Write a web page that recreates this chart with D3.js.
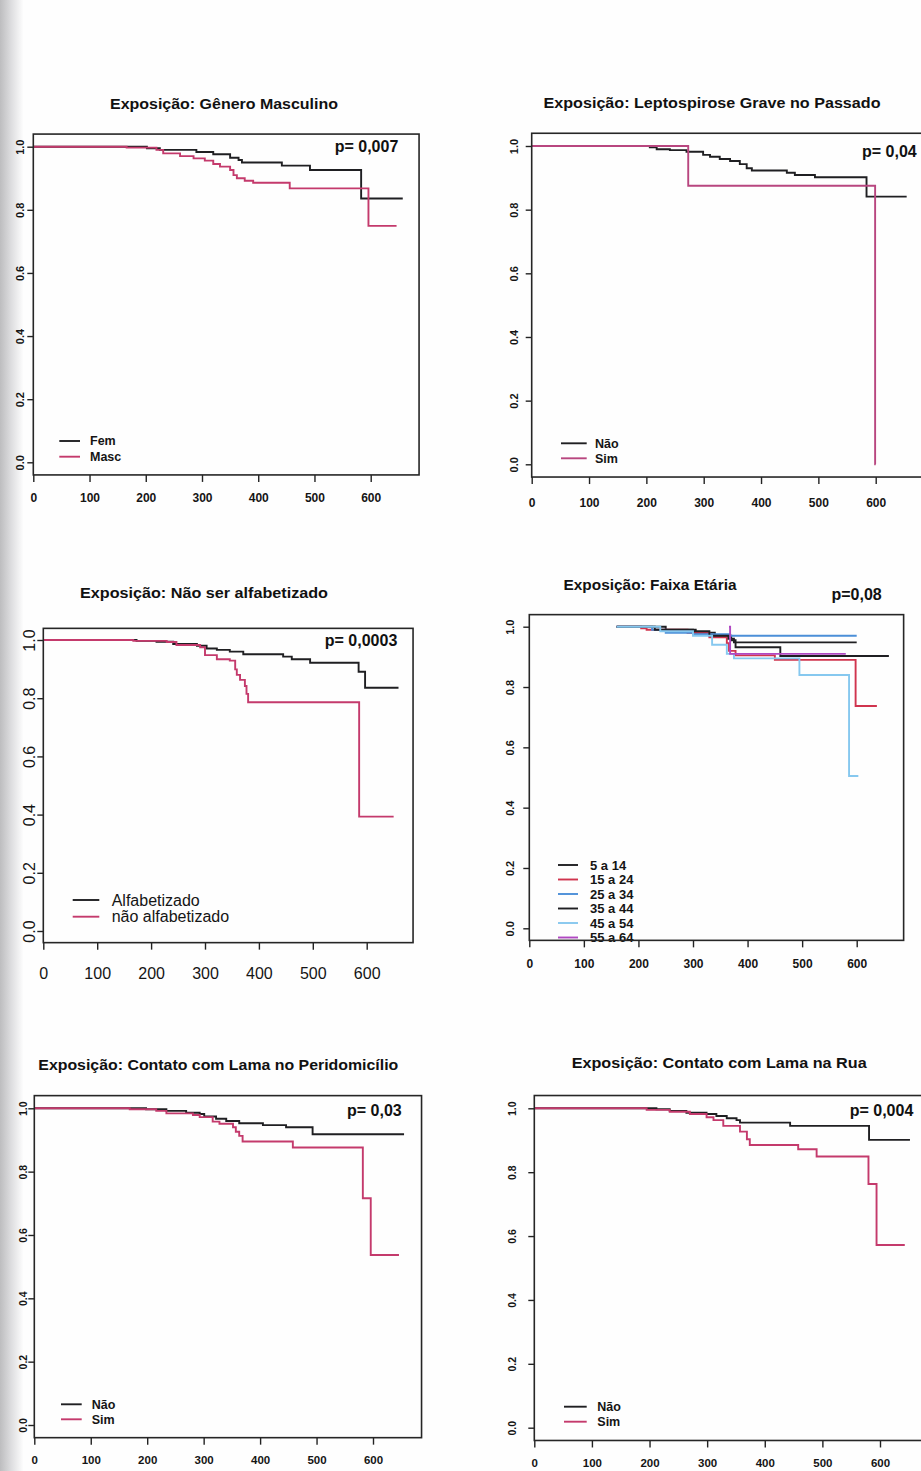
<!DOCTYPE html>
<html>
<head>
<meta charset="utf-8">
<script src="https://cdn.jsdelivr.net/npm/d3@7"></script>
<style>
  body { margin: 0; background: #ffffff; }
  svg { display: block; }
</style>
</head>
<body>
<svg id="chart" width="921" height="1471"></svg>
<script>
// ---- Axis ticks shared by all panels ----
const timeTicks = [0, 100, 200, 300, 400, 500, 600];
const survTicks = [0, 0.2, 0.4, 0.6, 0.8, 1.0];
const survTickLabels = ["0.0", "0.2", "0.4", "0.6", "0.8", "1.0"];

// ---- Kaplan-Meier curves: [time (days), survival] ; last pair = end of follow-up ----
const generoFem  = [[0,1],[202,0.995],[225,0.99],[290,0.983],[320,0.976],[350,0.965],[365,0.958],[371,0.95],[442,0.94],[492,0.926],[583,0.836],[657,0.836]];
const generoMasc = [[0,1],[166,0.997],[219,0.99],[231,0.979],[261,0.97],[285,0.963],[305,0.956],[320,0.945],[332,0.937],[350,0.926],[356,0.91],[362,0.90],[376,0.892],[391,0.886],[456,0.868],[596,0.749],[646,0.749]];

const leptoNao = [[0,1],[206,0.996],[218,0.99],[241,0.987],[270,0.982],[299,0.972],[311,0.966],[328,0.959],[346,0.953],[363,0.943],[375,0.930],[384,0.923],[445,0.916],[459,0.909],[494,0.902],[584,0.841],[654,0.841]];
const leptoSim = [[0,1],[273,0.875],[599,0],[600,0]];

const alfabetizado    = [[0,1],[173,0.997],[210,0.994],[241,0.986],[285,0.98],[303,0.971],[322,0.966],[346,0.96],[371,0.951],[445,0.943],[461,0.934],[495,0.922],[585,0.891],[597,0.836],[659,0.836]];
const naoAlfabetizado = [[0,1],[167,0.997],[229,0.993],[247,0.983],[291,0.975],[300,0.948],[322,0.934],[346,0.929],[356,0.899],[359,0.88],[365,0.863],[374,0.842],[377,0.815],[380,0.786],[586,0.393],[650,0.393]];

const faixa5a14  = [[160,1],[250,0.99],[305,0.98],[340,0.97],[370,0.955],[378,0.932],[460,0.903],[659,0.903]];
const faixa15a24 = [[160,1],[205,0.995],[215,0.99],[290,0.98],[330,0.965],[362,0.945],[366,0.92],[378,0.905],[450,0.89],[598,0.737],[637,0.737]];
const faixa25a34 = [[160,1],[225,0.99],[250,0.98],[300,0.975],[368,0.97],[600,0.97]];
const faixa35a44 = [[160,1],[230,0.99],[300,0.985],[330,0.97],[365,0.96],[375,0.948],[600,0.948]];
const faixa45a54 = [[160,1],[240,0.985],[300,0.97],[335,0.94],[362,0.91],[375,0.895],[495,0.84],[586,0.505],[603,0.505]];
const faixa55a64 = [[366,1],[368,0.91],[580,0.91]];

const lamaPeriNao = [[0,1],[198,0.997],[234,0.992],[269,0.986],[293,0.982],[301,0.974],[322,0.967],[340,0.96],[363,0.953],[405,0.947],[446,0.94],[493,0.918],[655,0.918]];
const lamaPeriSim = [[0,1],[169,0.997],[216,0.992],[234,0.984],[281,0.979],[293,0.972],[316,0.958],[328,0.951],[352,0.94],[357,0.926],[363,0.913],[369,0.895],[458,0.876],[582,0.716],[596,0.537],[646,0.537]];

const lamaRuaNao = [[0,1],[212,0.997],[235,0.992],[264,0.986],[299,0.982],[316,0.976],[334,0.969],[351,0.963],[357,0.955],[444,0.945],[581,0.901],[652,0.901]];
const lamaRuaSim = [[0,1],[195,0.995],[235,0.989],[270,0.982],[299,0.972],[311,0.963],[328,0.945],[357,0.927],[369,0.903],[374,0.885],[458,0.872],[490,0.849],[580,0.763],[594,0.572],[643,0.572]];

// ---- Labels ----
const titles = [
  "Exposição: Gênero Masculino",
  "Exposição: Leptospirose Grave no Passado",
  "Exposição: Não ser alfabetizado",
  "Exposição: Faixa Etária",
  "Exposição: Contato com Lama no Peridomicílio",
  "Exposição: Contato com Lama na Rua"
];
const pValues = ["p= 0,007", "p= 0,04", "p= 0,0003", "p=0,08", "p= 0,03", "p= 0,004"];
const groupsSexo  = ["Fem", "Masc"];
const groupsSimNao = ["Não", "Sim"];
const groupsAlfab = ["Alfabetizado", "não alfabetizado"];
const groupsFaixa = ["5 a 14", "15 a 24", "25 a 34", "35 a 44", "45 a 54", "55 a 64"];

// ---- Colours ----
const BLACK = "#1f1f22";
const RED = "#c43a6c";
const faixaColors = [BLACK, "#d0344e", "#4b8fd8", BLACK, "#86c8ef", "#b048c2"];

// ---- Panel layout (pixel placement of each small plot) ----
const panels = [
  { title: titles[0], p: pValues[0], series: [generoFem, generoMasc], names: groupsSexo, colors: [BLACK, RED],
    x0: 33.3, x600: 370.7, y1: 146.7, y0: 462.3,
    titleX: 224, titleY: 109, titleW: 228, pX: 398.3, pY: 146.7, pSize: 16,
    leg: { x1: 59.3, x2: 80, tx: 90, rows: [441, 456.7], size: 12.5, weight: "bold" },
    tick: { size: 12, weight: "bold", xOff: 23, yOff: 13.5 } },
  { title: titles[1], p: pValues[1], series: [leptoNao, leptoSim], names: groupsSimNao, colors: [BLACK, "#b8467f"],
    x0: 531.7, x600: 875.7, y1: 146, y0: 464.3,
    titleX: 712, titleY: 107.7, titleW: 337, pX: 916.7, pY: 151, pSize: 16,
    leg: { x1: 561, x2: 586.7, tx: 595, rows: [443.3, 458.3], size: 12.5, weight: "bold" },
    tick: { size: 12, weight: "bold", xOff: 25.5, yOff: 18 } },
  { title: titles[2], p: pValues[2], series: [alfabetizado, naoAlfabetizado], names: groupsAlfab, colors: [BLACK, RED],
    x0: 43.3, x600: 366.7, y1: 640, y0: 931,
    titleX: 204, titleY: 597.7, titleW: 248, pX: 397.3, pY: 640, pSize: 16,
    leg: { x1: 72.7, x2: 99.3, tx: 111.7, rows: [900, 916.7], size: 16, weight: "normal" },
    tick: { size: 16, weight: "normal", xOff: 30.5, yOff: 13.5 } },
  { title: titles[3], p: pValues[3], series: [faixa5a14, faixa15a24, faixa25a34, faixa35a44, faixa45a54, faixa55a64],
    names: groupsFaixa, colors: faixaColors,
    x0: 529.3, x600: 856.7, y1: 626.7, y0: 928.3,
    titleX: 650, titleY: 590, titleW: 173, pX: 881.7, pY: 594, pSize: 16,
    leg: { x1: 558, x2: 578, tx: 590, rows: [865, 879.5, 894, 908.5, 923, 937.5], size: 13, weight: "bold" },
    tick: { size: 12, weight: "bold", xOff: 23, yOff: 19 } },
  { title: titles[4], p: pValues[4], series: [lamaPeriNao, lamaPeriSim], names: groupsSimNao, colors: [BLACK, RED],
    x0: 34.3, x600: 373, y1: 1108.3, y0: 1425,
    titleX: 218.3, titleY: 1070, titleW: 360, pX: 401.7, pY: 1110.7, pSize: 16,
    leg: { x1: 61, x2: 81.7, tx: 91.7, rows: [1404.3, 1419.3], size: 12.5, weight: "bold" },
    tick: { size: 11.5, weight: "bold", xOff: 22.5, yOff: 11 } },
  { title: titles[5], p: pValues[5], series: [lamaRuaNao, lamaRuaSim], names: groupsSimNao, colors: [BLACK, RED],
    x0: 534.3, x600: 880, y1: 1108.3, y0: 1427.7,
    titleX: 719.2, titleY: 1067.7, titleW: 295, pX: 913.3, pY: 1110, pSize: 16,
    leg: { x1: 564, x2: 586.7, tx: 597.3, rows: [1406.7, 1421.7], size: 12.5, weight: "bold" },
    tick: { size: 11.5, weight: "bold", xOff: 22.5, yOff: 22 } }
];

const FONT = "'Liberation Sans', Arial, Helvetica, sans-serif";
const svg = d3.select("#chart");

// paper background and the shaded binding edge on the left
const defs = svg.append("defs");
const grad = defs.append("linearGradient").attr("id", "edgeShade").attr("x1", 0).attr("x2", 1).attr("y1", 0).attr("y2", 0);
grad.append("stop").attr("offset", "0%").attr("stop-color", "#bdbdbf");
grad.append("stop").attr("offset", "45%").attr("stop-color", "#dcdcde");
grad.append("stop").attr("offset", "100%").attr("stop-color", "#ffffff");
svg.append("rect").attr("width", 921).attr("height", 1471).attr("fill", "#fefefe");
svg.append("rect").attr("x", 0).attr("y", 0).attr("width", 24).attr("height", 1471).attr("fill", "url(#edgeShade)");

panels.forEach(pn => {
  const x = d3.scaleLinear().domain([0, 600]).range([pn.x0, pn.x600]);
  const y = d3.scaleLinear().domain([0, 1]).range([pn.y0, pn.y1]);
  // plot region: time 0 .. 686 days, survival -0.04 .. 1.04
  const left = x(0), right = x(686), top = y(1.04), bottom = y(-0.04);

  const g = svg.append("g");

  // title
  g.append("text")
    .attr("x", pn.titleX).attr("y", pn.titleY)
    .attr("text-anchor", "middle")
    .attr("font-family", FONT).attr("font-weight", "bold").attr("font-size", 15)
    .attr("fill", "#111")
    .attr("textLength", pn.titleW).attr("lengthAdjust", "spacingAndGlyphs")
    .text(pn.title);

  // survival curves (step functions)
  const line = d3.line().x(d => x(d[0])).y(d => y(d[1])).curve(d3.curveStepAfter);
  pn.series.forEach((s, i) => {
    g.append("path")
      .attr("d", line(s))
      .attr("fill", "none")
      .attr("stroke", pn.colors[i])
      .attr("stroke-width", 1.9)
      .attr("stroke-linejoin", "miter");
  });

  // legend
  pn.names.forEach((name, i) => {
    const ry = pn.leg.rows[i];
    g.append("line")
      .attr("x1", pn.leg.x1).attr("x2", pn.leg.x2)
      .attr("y1", ry).attr("y2", ry)
      .attr("stroke", pn.colors[i]).attr("stroke-width", 1.9);
    g.append("text")
      .attr("x", pn.leg.tx).attr("y", ry).attr("dy", "0.35em")
      .attr("font-family", FONT).attr("font-weight", pn.leg.weight).attr("font-size", pn.leg.size)
      .attr("fill", "#151515")
      .text(name);
  });

  // p-value
  g.append("text")
    .attr("x", pn.pX).attr("y", pn.pY).attr("dy", "0.36em")
    .attr("text-anchor", "end")
    .attr("font-family", FONT).attr("font-weight", "bold").attr("font-size", pn.pSize)
    .attr("fill", "#111")
    .text(pn.p);

  // x axis
  const xAxis = g.append("g")
    .attr("transform", `translate(0,${bottom})`)
    .call(d3.axisBottom(x).tickValues(timeTicks).tickSize(7).tickFormat(d3.format("d")));
  xAxis.select(".domain").remove();
  xAxis.selectAll(".tick line").attr("stroke", "#222").attr("stroke-width", 1.4);
  xAxis.selectAll(".tick text")
    .attr("y", pn.tick.xOff).attr("dy", "0.35em")
    .attr("font-family", FONT).attr("font-weight", pn.tick.weight).attr("font-size", pn.tick.size)
    .attr("fill", "#151515");

  // y axis with vertical labels
  const yAxis = g.append("g")
    .attr("transform", `translate(${left},0)`)
    .call(d3.axisLeft(y).tickValues(survTicks).tickSize(6).tickFormat((d, i) => survTickLabels[i]));
  yAxis.select(".domain").remove();
  yAxis.selectAll(".tick line").attr("stroke", "#222").attr("stroke-width", 1.4);
  yAxis.selectAll(".tick text")
    .attr("x", null).attr("dy", "0.35em")
    .attr("text-anchor", "middle")
    .attr("transform", `translate(${-pn.tick.yOff},0) rotate(-90)`)
    .attr("font-family", FONT).attr("font-weight", pn.tick.weight).attr("font-size", pn.tick.size - (pn.tick.weight === "bold" ? 1 : 0))
    .attr("fill", "#151515");

  // plot box
  g.append("rect")
    .attr("x", left).attr("y", top)
    .attr("width", right - left).attr("height", bottom - top)
    .attr("fill", "none").attr("stroke", "#262626").attr("stroke-width", 1.6);
});
</script>
</body>
</html>
